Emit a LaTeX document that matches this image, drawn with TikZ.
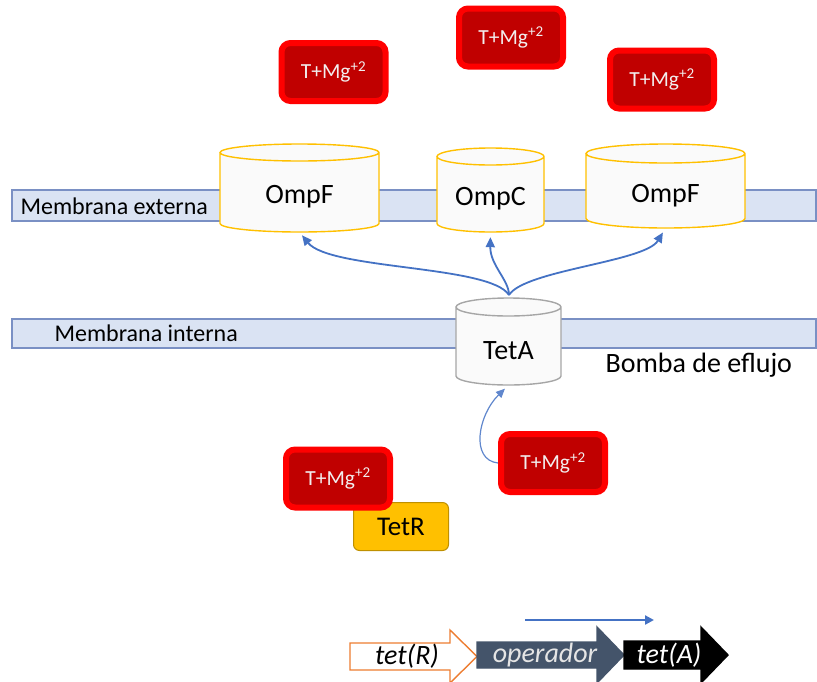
\documentclass[tikz,border=0pt]{standalone}
\usepackage{fontspec}
\setmainfont{Carlito}
\usepackage{tikz}
\usetikzlibrary{arrows.meta,positioning}
\definecolor{MembFill}{HTML}{DAE3F3}
\definecolor{MembLine}{HTML}{7A90C4}
\definecolor{PumpBlue}{HTML}{4472C4}
\definecolor{PorinGold}{HTML}{FFC000}
\definecolor{PumpGray}{HTML}{A6A6A6}
\definecolor{DrugRim}{HTML}{FF0000}
\definecolor{DrugFill}{HTML}{C00000}
\definecolor{DrugText}{HTML}{F2EEEE}
\definecolor{RepLine}{HTML}{BF9000}
\definecolor{OperFill}{HTML}{44546A}
\definecolor{GeneOrange}{HTML}{ED7D31}
\tikzset{
  figure/.style={x=1pt,y=1pt,font=\fontsize{28}{32}\selectfont,text=black},
  membrane/.style={draw=MembLine,line width=1.5pt,fill=MembFill,inner sep=0pt},
  memblabel/.style={anchor=west,font=\fontsize{24}{28}\selectfont},
  barrel/.style={line width=1.4pt,fill=white!98!black},
  barrellabel/.style={inner sep=0pt},
  drug/.style={draw=DrugRim,line width=6pt,fill=DrugFill,rounded corners=9pt,
    minimum width=104pt,minimum height=58pt,text=DrugText,font=\fontsize{21.5}{24}\selectfont},
  flow/.style={-{Triangle[length=10pt,width=9pt]},draw=PumpBlue,line width=1.8pt},
  gene/.style={line width=1.4pt},
}

\begin{document}
\begin{tikzpicture}[figure]
  \useasboundingbox (0,0) rectangle (817,-681);

  % membranas
  \node[membrane,minimum width=804pt,minimum height=31pt] (outerm) at (414,-205.5) {};
  \node[membrane,minimum width=804pt,minimum height=29pt] (innerm) at (414,-333.5) {};
  \node[memblabel] (outerlbl) at (17,-206) {Membrana externa};
  \node[memblabel] (innerlbl) at (51,-333) {Membrana interna};

  % porinas y bomba
  \draw[barrel,draw=PorinGold] (220,-152.5) -- (220,-223.5)
    arc[start angle=180,end angle=360,x radius=79.5,y radius=8.5] -- (379,-152.5)
    arc[start angle=0,end angle=360,x radius=79.5,y radius=8.5];
  \draw[barrel,draw=PorinGold] (437,-156.5) -- (437,-223.5)
    arc[start angle=180,end angle=360,x radius=53.5,y radius=8.5] -- (544,-156.5)
    arc[start angle=0,end angle=360,x radius=53.5,y radius=8.5];
  \draw[barrel,draw=PorinGold] (586,-153.5) -- (586,-218.5)
    arc[start angle=180,end angle=360,x radius=79.5,y radius=9.5] -- (745,-153.5)
    arc[start angle=0,end angle=360,x radius=79.5,y radius=9.5];
  \draw[barrel,draw=PumpGray] (456,-307) -- (456,-376)
    arc[start angle=180,end angle=360,x radius=52.5,y radius=9] -- (561,-307)
    arc[start angle=0,end angle=360,x radius=52.5,y radius=9];

  \node[barrellabel,minimum width=159pt,minimum height=71pt] (ompfa) at (299.5,-196.5) {OmpF};
  \node[barrellabel,minimum width=107pt,minimum height=67pt] (ompc) at (490.5,-198.5) {OmpC};
  \node[barrellabel,minimum width=159pt,minimum height=65pt] (ompfb) at (665.5,-195.5) {OmpF};
  \node[barrellabel,minimum width=105pt,minimum height=69pt] (teta) at (508.5,-350.5) {TetA};
  \node[anchor=west] (pumplbl) at (602,-365) {Bomba de eflujo};
  \coordinate (tetatop) at (509,-295);

  \draw[flow,shorten >=4pt] (tetatop) .. controls (490,-265) and (330,-270) .. (ompfa.south);
  \draw[flow,shorten >=5pt] (tetatop) .. controls (509,-280) and (490,-265) .. (ompc.south);
  \draw[flow,shorten >=5pt] (tetatop) .. controls (525,-270) and (645,-262) .. (ompfb.south);

  % tetraciclina + Mg
  \node[drug] (mgA) at (333.5,-72) {T+Mg\textsuperscript{+2}};
  \node[drug] (mgB) at (511,-37.5) {T+Mg\textsuperscript{+2}};
  \node[drug] (mgC) at (662,-79.5) {T+Mg\textsuperscript{+2}};
  \node[draw=RepLine,line width=1pt,fill=PorinGold,rounded corners=6pt,
    minimum width=95pt,minimum height=48pt,font=\fontsize{27}{30}\selectfont] (tetr) at (401,-526.5) {TetR};
  \node[drug] (mgE) at (338,-478.5) {T+Mg\textsuperscript{+2}};

  \coordinate (mgDedge) at (498,-463);
  \draw[-{Triangle[length=9pt,width=8pt]},draw=PumpBlue!85!white,line width=1.2pt,shorten >=5pt]
    (mgDedge) .. controls (470,-460) and (478,-415) .. (teta.south);
  \node[drug] (mgD) at (553,-463) {T+Mg\textsuperscript{+2}};

  % genes
  \coordinate (txstart) at (525,-620);
  \coordinate (txend) at (654,-620);
  \draw[-{Triangle[length=9pt,width=9pt]},draw=PumpBlue,line width=2.8pt] (txstart) -- (txend);

  \draw[gene,draw=GeneOrange,fill=white] (350,-643) -- (450,-643) -- (450,-630) -- (477,-656.5)
    -- (450,-683) -- (450,-670) -- (350,-670) -- cycle;
  \draw[gene,draw=OperFill,fill=OperFill] (477,-642) -- (597,-642) -- (597,-627) -- (624,-655)
    -- (597,-683) -- (597,-668) -- (477,-668) -- cycle;
  \draw[gene,draw=black,fill=black] (624,-641) -- (701,-641) -- (701,-627) -- (728,-655)
    -- (701,-683) -- (701,-669) -- (624,-669) -- cycle;

  \node (tetrgene) at (407,-656.5) {\itshape tet(R)};
  \node[text=white!90!black] (opergene) at (545,-655) {\itshape operador};
  \node[text=white] (tetagene) at (669,-655) {\itshape tet(A)};
\end{tikzpicture}
\end{document}
